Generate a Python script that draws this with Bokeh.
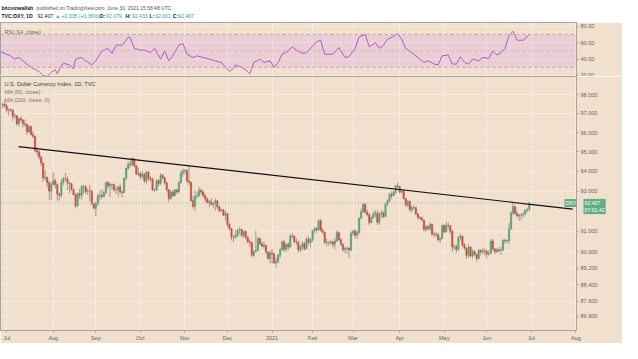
import pandas as pd
from bokeh.plotting import figure
from bokeh.layouts import column
from bokeh.models import (Range1d, FixedTicker, PrintfTickFormatter, Label, BoxAnnotation,
                          Span, ColumnDataSource, Grid)
from bokeh.embed import file_html
from bokeh.resources import INLINE

# ---------------- data (DXY daily, TVC) ----------------
first_day = "2020-06-29"
last_day = "2021-06-30"
holidays = ["2020-12-25", "2021-01-01"]
future_end = "2021-08-31"

opens = [
    97.43, 97.48,
    97.39, 97.18, 97.20, 97.18, 96.86, 96.88, 96.45, 96.73, 96.65, 96.46, 96.43, 96.04, 96.31, 95.90, 95.80, 95.06, 95.00, 94.73, 94.43, 93.67, 93.70, 93.43, 93.00,
    93.35, 93.53, 93.34, 92.86, 92.79, 93.44, 93.63, 93.62, 93.42, 93.38, 93.09, 92.83, 92.26, 92.87, 92.79, 93.24, 93.23, 92.98, 93.00, 93.01, 92.36,
    92.14, 92.35, 92.74, 92.79, 92.73, 92.94, 93.44, 93.26, 93.34, 93.33, 93.06, 93.06, 93.21, 92.96, 92.93, 93.65, 94.16, 94.37, 94.35, 94.64, 94.28, 93.86,
    93.89, 93.74, 93.85, 93.51, 93.97, 93.66, 93.60, 93.06, 93.06, 93.54, 93.38, 93.80, 93.68, 93.43, 93.07, 92.62, 92.96, 92.77, 93.06, 92.95, 93.43, 93.90,
    94.04, 94.06, 93.51, 93.44, 92.52, 92.23, 92.74, 92.75, 93.05, 92.96, 92.76, 92.61, 92.42, 92.48, 92.33, 92.39, 92.51, 92.22, 92.01, 92.06, 91.79,
    91.87, 91.33, 91.12, 90.70, 90.70, 90.80, 91.07, 91.09, 90.79, 90.98, 90.70, 90.47, 90.45, 89.82, 89.99, 90.04, 90.64, 90.38, 90.26, 90.31, 89.98, 89.66,
    89.94, 89.88, 89.44, 89.52, 89.83, 90.08, 90.47, 90.11, 90.35, 90.22, 90.77, 90.75, 90.49, 90.47, 90.08, 90.23, 90.39, 90.14, 90.61, 90.44,
    90.58, 91.02, 91.14, 91.06, 91.53, 91.04, 90.95, 90.44, 90.43, 90.43, 90.48, 90.36, 90.52, 90.93, 90.58, 90.36, 90.09, 90.15, 90.16, 90.08,
    90.90, 91.01, 90.80, 90.93, 91.64, 91.97, 92.34, 91.94, 91.82, 91.42, 91.67, 91.84, 91.90, 91.44, 91.86, 91.92, 91.72, 92.35, 92.52, 92.84, 92.77, 92.94, 93.27,
    93.24, 92.95, 93.00, 92.62, 92.30, 92.49, 92.06, 92.17, 92.18, 91.85, 91.69, 91.66, 91.55, 91.08, 91.23, 91.14, 91.34, 90.85, 90.84, 90.82, 90.58, 90.64,
    91.28, 90.97, 91.30, 91.28, 90.99, 90.22, 90.24, 90.11, 90.70, 90.75, 90.32, 90.18, 89.82, 90.22, 89.78, 90.00, 89.87, 89.66, 90.06, 89.98, 90.03,
    90.00, 89.88, 89.91, 90.52, 90.13, 90.00, 90.09, 90.05, 90.07, 90.55, 90.52, 90.53, 91.10, 91.90, 92.23, 91.87, 91.76, 91.80, 91.82, 91.85, 92.04, 92.079,
]
highs = [
    97.55, 97.70,
    97.53, 97.28, 97.26, 97.20, 97.02, 96.92, 96.78, 96.86, 96.70, 96.68, 96.45, 96.40, 96.37, 96.08, 95.84, 95.26, 95.10, 94.83, 94.45, 94.06, 93.73, 93.52, 93.46,
    93.97, 93.63, 93.38, 92.92, 93.61, 93.72, 93.93, 93.75, 93.43, 93.41, 93.10, 92.89, 92.94, 93.12, 93.30, 93.33, 93.28, 93.13, 93.32, 93.03, 92.43,
    92.49, 92.87, 93.02, 93.10, 93.03, 93.48, 93.51, 93.45, 93.37, 93.38, 93.22, 93.28, 93.37, 93.04, 93.70, 94.21, 94.50, 94.59, 94.74, 94.70, 94.33, 94.21,
    93.99, 94.03, 93.91, 94.02, 93.99, 93.74, 93.70, 93.13, 93.59, 93.60, 93.91, 93.86, 93.74, 93.47, 93.10, 93.04, 93.05, 93.11, 93.12, 93.53, 94.04, 94.14,
    94.12, 94.08, 94.30, 93.48, 92.76, 93.03, 92.98, 93.21, 93.13, 93.03, 92.86, 92.68, 92.56, 92.65, 92.44, 92.63, 92.57, 92.24, 92.12, 92.10, 92.01,
    91.92, 91.40, 91.15, 90.80, 91.04, 91.11, 91.21, 91.11, 91.03, 91.04, 90.73, 90.59, 90.48, 90.08, 91.01, 90.71, 90.69, 90.50, 90.49, 90.34, 89.99, 90.05,
    90.13, 89.95, 89.70, 89.88, 90.18, 90.55, 90.58, 90.40, 90.46, 90.85, 90.90, 90.80, 90.65, 90.54, 90.32, 90.52, 90.48, 90.71, 90.75, 90.67,
    91.07, 91.19, 91.22, 91.59, 91.60, 91.15, 90.96, 90.62, 90.52, 90.59, 90.52, 90.67, 91.05, 91.00, 90.66, 90.40, 90.24, 90.25, 90.22, 91.00,
    91.08, 91.09, 91.05, 91.70, 92.12, 92.41, 92.35, 92.07, 91.91, 91.74, 91.98, 92.05, 92.04, 91.94, 92.06, 91.98, 92.38, 92.58, 92.91, 92.99, 93.03, 93.30, 93.44,
    93.26, 93.10, 93.05, 92.66, 92.54, 92.51, 92.26, 92.29, 92.20, 91.91, 91.74, 91.72, 91.56, 91.32, 91.29, 91.44, 91.37, 90.99, 90.96, 90.91, 90.72, 91.33,
    91.34, 91.44, 91.43, 91.31, 91.08, 90.34, 90.34, 90.77, 90.90, 90.79, 90.42, 90.18, 90.38, 90.26, 90.12, 90.07, 89.90, 90.12, 90.10, 90.18, 90.15,
    90.09, 90.06, 90.62, 90.63, 90.16, 90.18, 90.22, 90.23, 90.60, 90.63, 90.59, 91.41, 91.99, 92.41, 92.25, 92.01, 91.86, 91.88, 91.96, 92.10, 92.16, 92.433,
]
lows = [
    97.27, 97.30,
    97.05, 96.90, 97.08, 96.62, 96.73, 96.37, 96.32, 96.58, 96.27, 96.30, 95.89, 95.98, 95.84, 95.73, 94.99, 94.80, 94.60, 94.27, 93.48, 93.52, 93.18, 92.54, 92.55,
    93.26, 93.12, 92.53, 92.52, 92.68, 93.30, 93.51, 93.06, 92.90, 92.99, 92.80, 92.13, 92.22, 92.60, 92.57, 92.87, 92.84, 92.82, 92.48, 92.29, 92.10,
    91.75, 92.26, 92.52, 92.59, 92.68, 92.84, 93.11, 92.71, 93.07, 92.97, 92.86, 92.71, 92.85, 92.68, 92.89, 93.55, 94.05, 94.20, 94.28, 94.21, 93.82, 93.76,
    93.59, 93.63, 93.41, 93.37, 93.50, 93.48, 93.00, 92.94, 93.00, 93.24, 93.31, 93.58, 93.33, 92.95, 92.47, 92.57, 92.70, 92.75, 92.84, 92.92, 93.38, 93.72,
    93.86, 93.43, 93.30, 92.47, 92.13, 92.01, 92.63, 92.73, 92.83, 92.69, 92.48, 92.39, 92.22, 92.29, 92.18, 92.02, 92.11, 91.95, 91.99, 91.74, 91.54,
    91.19, 91.04, 90.55, 90.47, 90.64, 90.71, 90.85, 90.69, 90.67, 90.58, 90.41, 90.23, 89.72, 89.74, 89.97, 90.04, 90.32, 90.22, 90.14, 89.86, 89.62, 89.42,
    89.44, 89.41, 89.21, 89.42, 89.69, 90.04, 89.97, 89.99, 90.06, 90.20, 90.66, 90.42, 90.30, 89.97, 89.97, 90.06, 90.04, 90.12, 90.33, 90.22,
    90.48, 90.90, 90.92, 91.03, 90.98, 90.86, 90.39, 90.25, 90.27, 90.33, 90.19, 90.12, 90.48, 90.53, 90.28, 89.99, 89.92, 89.89, 89.68, 90.01,
    90.78, 90.64, 90.63, 90.87, 91.62, 91.92, 91.86, 91.73, 91.31, 91.39, 91.61, 91.69, 91.31, 91.31, 91.66, 91.66, 91.70, 92.27, 92.42, 92.63, 92.76, 92.86, 93.15,
    92.89, 92.87, 92.58, 92.23, 92.19, 91.98, 91.93, 92.04, 91.80, 91.57, 91.55, 91.50, 91.00, 90.98, 91.02, 91.00, 90.79, 90.69, 90.72, 90.48, 90.42, 90.61,
    90.90, 90.93, 91.11, 90.86, 89.98, 90.08, 89.92, 90.03, 90.54, 90.22, 90.07, 89.65, 89.70, 89.73, 89.67, 89.80, 89.53, 89.62, 89.82, 89.90, 89.80,
    89.66, 89.78, 89.89, 90.03, 89.86, 89.93, 89.97, 89.85, 90.04, 90.39, 90.38, 90.39, 91.07, 91.81, 91.80, 91.68, 91.51, 91.55, 91.70, 91.77, 91.94, 92.001,
]
closes = [
    97.48, 97.39,
    97.18, 97.20, 97.18, 96.86, 96.88, 96.45, 96.73, 96.65, 96.46, 96.43, 96.04, 96.31, 95.90, 95.80, 95.06, 95.00, 94.73, 94.43, 93.67, 93.70, 93.43, 93.00, 93.35,
    93.53, 93.34, 92.86, 92.79, 93.44, 93.63, 93.62, 93.42, 93.38, 93.09, 92.83, 92.26, 92.87, 92.79, 93.24, 93.23, 92.98, 93.00, 93.01, 92.36, 92.14,
    92.35, 92.74, 92.79, 92.73, 92.94, 93.44, 93.26, 93.34, 93.33, 93.06, 93.06, 93.21, 92.96, 92.93, 93.65, 94.16, 94.37, 94.35, 94.64, 94.28, 93.86, 93.89,
    93.74, 93.85, 93.51, 93.97, 93.66, 93.60, 93.06, 93.06, 93.54, 93.38, 93.80, 93.68, 93.43, 93.07, 92.62, 92.96, 92.77, 93.06, 92.95, 93.43, 93.90, 94.04,
    94.06, 93.51, 93.44, 92.52, 92.23, 92.74, 92.75, 93.05, 92.96, 92.76, 92.61, 92.42, 92.48, 92.33, 92.39, 92.51, 92.22, 92.01, 92.06, 91.79, 91.87,
    91.33, 91.12, 90.70, 90.70, 90.80, 91.07, 91.09, 90.79, 90.98, 90.70, 90.47, 90.45, 89.82, 89.99, 90.04, 90.64, 90.38, 90.26, 90.31, 89.98, 89.66, 89.94,
    89.88, 89.44, 89.52, 89.83, 90.08, 90.47, 90.11, 90.35, 90.22, 90.77, 90.75, 90.49, 90.47, 90.08, 90.23, 90.39, 90.14, 90.61, 90.44, 90.58,
    91.02, 91.14, 91.06, 91.53, 91.04, 90.95, 90.44, 90.43, 90.43, 90.48, 90.36, 90.52, 90.93, 90.58, 90.36, 90.09, 90.15, 90.16, 90.08, 90.90,
    91.01, 90.80, 90.93, 91.64, 91.97, 92.34, 91.94, 91.82, 91.42, 91.67, 91.84, 91.90, 91.44, 91.86, 91.92, 91.72, 92.35, 92.52, 92.84, 92.77, 92.94, 93.27, 93.24,
    92.95, 93.00, 92.62, 92.30, 92.49, 92.06, 92.17, 92.18, 91.85, 91.69, 91.66, 91.55, 91.08, 91.23, 91.14, 91.34, 90.85, 90.84, 90.82, 90.58, 90.64, 91.28,
    90.97, 91.30, 91.28, 90.99, 90.22, 90.24, 90.11, 90.70, 90.75, 90.32, 90.18, 89.82, 90.22, 89.78, 90.00, 89.87, 89.66, 90.06, 89.98, 90.03, 90.00,
    89.88, 89.91, 90.52, 90.13, 90.00, 90.09, 90.05, 90.07, 90.55, 90.52, 90.53, 91.10, 91.90, 92.23, 91.87, 91.76, 91.80, 91.82, 91.85, 92.04, 92.072, 92.407,
]

# RSI (14, close): bar index -> value
rsi_idx = [-1, 4, 6, 8, 11, 14, 18, 20, 22, 24, 26, 27, 28, 30, 33, 35, 36, 39, 41, 44, 46, 49, 52, 54, 56,
           59, 61, 62, 63, 65, 68, 70, 73, 75, 78, 80, 82, 84, 87, 89, 91, 94, 96, 99, 102, 105, 108, 112,
           114, 115, 118, 120, 122, 124, 127, 129, 132, 134, 136, 138, 141, 143, 145, 148, 150, 152, 155,
           157, 159, 163, 166, 169, 171, 174, 176, 179, 181, 184, 186, 188, 190, 193, 195, 197, 199, 202,
           205, 208, 210, 213, 215, 217, 220, 222, 224, 226, 228, 230, 232, 235, 237, 240, 242, 244, 246,
           248, 250, 252, 254, 257, 260]
rsi_val = [49, 44, 40, 42, 36, 30, 25, 20, 19, 24, 27, 22, 28, 35, 33, 28, 40, 42, 38, 33, 38, 50, 53, 47, 57,
           57, 63, 67, 66, 53, 51, 51, 48, 53, 40, 50, 38, 44, 57, 59, 46, 42, 44, 42, 40, 38, 36, 25,
           29, 33, 30, 27, 22, 36, 40, 36, 38, 30, 36, 46, 50, 55, 51, 47, 48, 53, 61,
           63, 46, 46, 54, 42, 43, 53, 67, 70, 55, 60, 53, 57, 64, 68, 71, 64, 53, 48,
           42, 36, 38, 34, 33, 44, 45, 34, 34, 43, 36, 34, 40, 38, 42, 41, 50, 45, 48,
           53, 69, 74, 63, 63, 70]
rsi_levels = [30, 50, 70]
rsi_ticks = [20, 40, 60, 80]

price_ticks = [98.0, 97.0, 96.0, 95.0, 94.0, 93.0, 91.0, 90.0, 89.2, 88.4, 87.6, 86.9]
month_labels = ["Jul", "Aug", "Sep", "Oct", "Nov", "Dec", "2021", "Feb", "Mar", "Apr", "May", "Jun", "Jul", "Aug"]

# trend line drawn on chart (bar index, price)
trend_idx = [7.9, 281.4]
trend_price = [95.27, 92.10]
last_price = 92.407

# ---------------- derived positions ----------------
dates = [d for d in pd.bdate_range(first_day, last_day) if d.strftime("%Y-%m-%d") not in holidays]
n = min(len(dates), len(closes))
dates = dates[:n]
future = list(pd.bdate_range(pd.Timestamp(last_day) + pd.Timedelta(days=1), future_end))
all_dates = dates + future
month_pos = []
seen = set()
for i, d in enumerate(all_dates):
    key = (d.year, d.month)
    if key not in seen:
        seen.add(key)
        if not (d.year == 2020 and d.month == 6):
            month_pos.append(i)
month_pos = month_pos[:len(month_labels)]
overrides = {p: lab for p, lab in zip(month_pos, month_labels)}

idx = list(range(n))
o, h, l, c = opens[:n], highs[:n], lows[:n], closes[:n]
UP, DOWN = "#57a274", "#c94f3f"
src = ColumnDataSource(dict(
    x=idx, open=o, high=h, low=l, close=c,
    top=[max(a, b) for a, b in zip(o, c)],
    bottom=[min(a, b) for a, b in zip(o, c)],
    color=[UP if cc >= oo else DOWN for oo, cc in zip(o, c)],
))

# ---------------- styling ----------------
BG = "#f2e0cf"
GRID = "#f6eadf"
BORDER = "#aaa39c"
TXT = "#66625d"
FONT = "Liberation Sans"
W = 622
AXW = 43
H_HDR, H_RSI, H_MAIN = 22, 54, 267
GREEN_BOX = "#5fae84"

xr = Range1d(-1.05, 283.3)

# header
hdr = figure(width=W, height=H_HDR, x_range=Range1d(0, W), y_range=Range1d(0, H_HDR),
             x_axis_location=None, y_axis_location=None, toolbar_location=None,
             output_backend="svg", min_border=0)
hdr.grid.visible = False
hdr.outline_line_color = None
hdr.background_fill_color = "white"
hdr.border_fill_color = "white"

def hl(x, y, text, color="#4a4d57", bold=False, size="5.1px"):
    hdr.add_layout(Label(x=x, y=y, text=text, text_font=FONT, text_font_size=size,
                         text_color=color, text_font_style="bold" if bold else "normal",
                         text_baseline="middle", text_align="left"))

TEAL = "#26a69a"
Y1, Y2 = H_HDR - 7.3, H_HDR - 15.8
hl(1, Y1, "bitcoinwallah", "#131722", True, "5px")
hl(39, Y1, "published on TradingView.com, June 30, 2021 15:58:48 UTC", "#50535e", False, "5px")
hl(1, Y2, "TVC:DXY, 1D", "#131722", True)
hl(40, Y2, "92.407", "#131722")
hl(59, Y2, "\u25b2 +0.335 (+0.36%)", TEAL)
hl(107, Y2, "O:", "#131722", True)
hl(114, Y2, "92.079", TEAL)
hl(135, Y2, "H:", "#131722", True)
hl(142, Y2, "92.433", TEAL)
hl(161, Y2, "L:", "#131722", True)
hl(167, Y2, "92.001", TEAL)
hl(186, Y2, "C:", "#131722", True)
hl(192, Y2, "92.407", TEAL)


def style_right_axis(ax):
    ax.major_label_text_font = FONT
    ax.major_label_text_font_size = "5.5px"
    ax.major_label_text_color = TXT
    ax.axis_line_color = BORDER
    ax.major_tick_line_color = BORDER
    ax.major_tick_out = 2
    ax.major_tick_in = 0
    ax.minor_tick_out = 0
    ax.minor_tick_in = 0
    ax.major_label_standoff = 2


# RSI pane
rsi = figure(width=W, height=H_RSI, x_range=xr, y_range=Range1d(18.85, 84.6),
             x_axis_location=None, y_axis_location="right", toolbar_location=None,
             output_backend="svg", min_border_left=0, min_border_right=AXW,
             min_border_top=0, min_border_bottom=0)
rsi.background_fill_color = BG
rsi.border_fill_color = BG
rsi.outline_line_color = BORDER
rsi.yaxis.ticker = FixedTicker(ticks=rsi_ticks, minor_ticks=[])
rsi.yaxis.formatter = PrintfTickFormatter(format="%.2f")
style_right_axis(rsi.yaxis[0])
rsi.ygrid.grid_line_color = GRID
rsi.add_layout(Grid(dimension=0, ticker=FixedTicker(ticks=month_pos, minor_ticks=[]),
                    grid_line_color=GRID))
rsi.add_layout(BoxAnnotation(bottom=rsi_levels[0], top=rsi_levels[-1], fill_color="#9915ff",
                             fill_alpha=0.085, line_color=None))
for lv in rsi_levels:
    rsi.add_layout(Span(location=lv, dimension="width", line_color="#b6a2b3",
                        line_dash="3 3", line_width=1, line_alpha=0.5 if lv == 50 else 1.0))
rsi.line(rsi_idx, rsi_val, line_color="#b25ec6", line_width=1)
rsi.add_layout(Label(x=4, y=H_RSI - 9, x_units="screen", y_units="screen", text="RSI (14, close)",
                     text_font=FONT, text_font_size="5.5px", text_color=TXT, text_baseline="middle"))

# main pane
main = figure(width=W, height=H_MAIN, x_range=xr, y_range=Range1d(86.23, 98.965),
              y_axis_type="log", y_axis_location="right", toolbar_location=None,
              output_backend="svg", min_border_left=0, min_border_right=AXW,
              min_border_top=0, min_border_bottom=12)
main.background_fill_color = BG
main.border_fill_color = BG
main.outline_line_color = BORDER
main.yaxis.ticker = FixedTicker(ticks=price_ticks, minor_ticks=[])
main.yaxis.formatter = PrintfTickFormatter(format="%.3f")
style_right_axis(main.yaxis[0])
xa = main.xaxis[0]
xa.ticker = FixedTicker(ticks=month_pos, minor_ticks=[])
xa.major_label_overrides = overrides
xa.major_label_text_font = FONT
xa.major_label_text_font_size = "5.5px"
xa.major_label_text_color = TXT
xa.axis_line_color = BORDER
xa.major_tick_line_color = BORDER
xa.major_tick_out = 2
xa.major_tick_in = 0
xa.minor_tick_out = 0
xa.minor_tick_in = 0
xa.major_label_standoff = 2
main.xgrid.grid_line_color = GRID
main.ygrid.grid_line_color = GRID

main.add_layout(Span(location=last_price, dimension="width", line_color="#8fbf96",
                     line_dash="1 2", line_width=1))
main.segment(x0="x", y0="low", x1="x", y1="high", source=src, line_color="#9f9891", line_width=1)
main.vbar(x="x", width=0.62, top="top", bottom="bottom", source=src,
          fill_color="color", line_color="color", line_width=0.6)
main.line(trend_idx, trend_price, line_color="#111111", line_width=1.2)

FH = H_MAIN - 12
FW = W - AXW
main.add_layout(Label(x=FW - 15, y=last_price, x_units="screen", y_units="data", text="DXY",
                      text_font=FONT, text_font_size="5.3px", text_color="white",
                      text_baseline="middle", background_fill_color=GREEN_BOX,
                      padding=1))
# last-price box on the price scale (lives in the right side panel, next to the axis)
main.add_layout(Label(x=-17, y=last_price, x_units="screen", y_units="data", y_offset=4,
                      text="92.407\n07:01:42", text_font=FONT, text_font_size="5.2px",
                      text_color="white", text_baseline="top", text_align="left",
                      background_fill_color=GREEN_BOX, padding=1), "right")

for k, (t, col) in enumerate([("U.S. Dollar Currency Index, 1D, TVC", "#3c3a38"),
                              ("MA (50, close)", "#7a746e"),
                              ("MA (200, close, 0)", "#7a746e")]):
    main.add_layout(Label(x=4, y=FH - 8 - 8 * k, x_units="screen", y_units="screen", text=t,
                          text_font=FONT, text_font_size="5.6px", text_color=col,
                          text_baseline="middle"))

page = column(hdr, rsi, main, spacing=0)
open("out.html", "w").write(file_html(page, INLINE))
